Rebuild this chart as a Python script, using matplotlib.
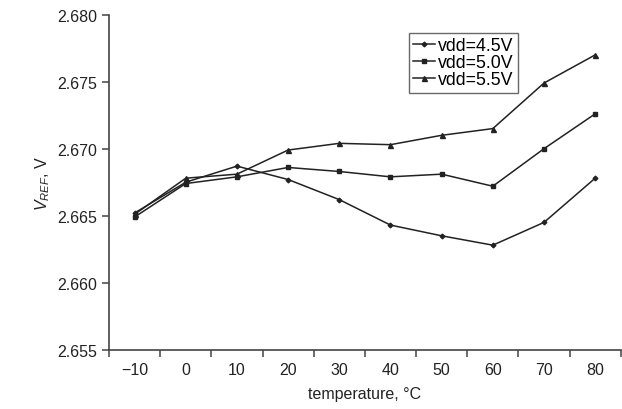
import matplotlib.pyplot as plt
import numpy as np

plt.rcParams['font.family'] = ['Liberation Sans', 'DejaVu Sans']
plt.rcParams['mathtext.fontset'] = 'custom'
plt.rcParams['mathtext.it'] = 'Liberation Sans:italic'
plt.rcParams['mathtext.rm'] = 'Liberation Sans'

temps = ['\u221210', '0', '10', '20', '30', '40', '50', '60', '70', '80']
vdd45 = [2.6652, 2.6675, 2.6687, 2.6677, 2.6662, 2.6643, 2.6635, 2.6628, 2.6645, 2.6678]
vdd50 = [2.6649, 2.6674, 2.6679, 2.6686, 2.6683, 2.6679, 2.6681, 2.6672, 2.6700, 2.6726]
vdd55 = [2.6651, 2.6678, 2.6681, 2.6699, 2.6704, 2.6703, 2.6710, 2.6715, 2.6749, 2.6770]

fig = plt.figure(figsize=(6.22, 4.10), dpi=100)
ax = fig.add_axes([109/622, 59.3/410, 1 - 109/622 - 0.002, (394.3 - 59.3)/410])

x = np.arange(len(temps))
ax.plot(x, vdd45, color='#222222', lw=1.1, marker='D', ms=2.4, label='vdd=4.5V')
ax.plot(x, vdd50, color='#222222', lw=1.1, marker='s', ms=3.0, label='vdd=5.0V')
ax.plot(x, vdd55, color='#222222', lw=1.1, marker='^', ms=3.6, label='vdd=5.5V')

ax.set_xlim(-0.5, len(temps) - 0.5)
ax.set_ylim(2.655, 2.680)
ax.set_yticks(np.arange(2.655, 2.6801, 0.005))
ax.set_yticklabels(['%.3f' % v for v in np.arange(2.655, 2.6801, 0.005)])
ax.set_xticks(np.arange(-0.5, len(temps), 1.0))
ax.set_xticklabels([])
ax.set_xticks(x, minor=True)
ax.set_xticklabels(temps, minor=True)
ax.tick_params(axis='x', which='minor', length=0, pad=9, labelsize=11.5, colors='#222222')
ax.tick_params(axis='x', which='major', length=5, width=1.1, color='#444444')
ax.tick_params(axis='y', length=5, width=1.1, color='#444444', labelsize=11.5, labelcolor='#222222')

for s in ['top', 'right']:
    ax.spines[s].set_visible(False)
for s in ['left', 'bottom']:
    ax.spines[s].set_color('#444444')
    ax.spines[s].set_linewidth(1.2)

ax.set_xlabel('temperature, \u00b0C', fontsize=11.5, color='#222222', labelpad=6)
ax.set_ylabel(r'$V_{REF}$, V', fontsize=11.5, color='#222222', labelpad=4)

leg = ax.legend(loc='upper left', bbox_to_anchor=(409/622, 1 - 34/410), bbox_transform=fig.transFigure,
                borderaxespad=0, fancybox=False, frameon=True, fontsize=12.8, handlelength=1.2,
                handletextpad=0.15, labelspacing=0.0, borderpad=0.25, handleheight=0.6)
leg.get_frame().set_edgecolor('#444444')
leg.get_frame().set_linewidth(1.0)

fig.savefig('out.png', dpi=100)
